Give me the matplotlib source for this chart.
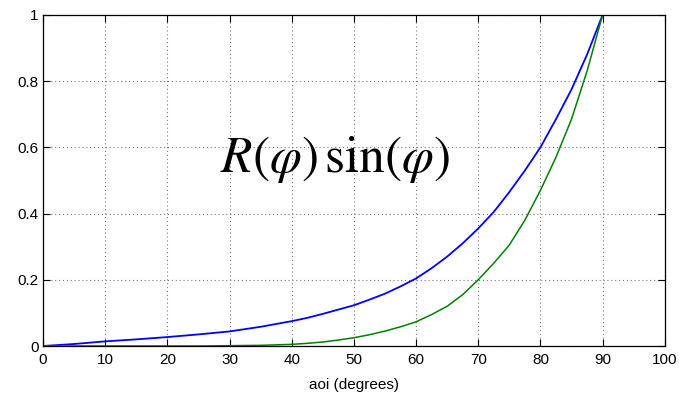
import matplotlib
matplotlib.use("Agg")
import matplotlib.pyplot as plt

# angle of incidence samples (degrees)
aoi = [0, 5, 10, 15, 20, 25, 30, 35, 40, 42.5, 45, 47.5, 50, 52.5, 55, 57.5,
       60, 62.5, 65, 67.5, 70, 72.5, 75, 77.5, 80, 82.5, 85, 87.5, 90]
blue_vals = [0, 0.006, 0.014, 0.02, 0.027, 0.035, 0.044, 0.058, 0.075, 0.085,
             0.097, 0.11, 0.123, 0.14, 0.158, 0.18, 0.204, 0.235, 0.27, 0.31,
             0.355, 0.405, 0.465, 0.53, 0.60, 0.685, 0.775, 0.88, 1.0]
green_vals = [0, 0, 0, 0, 0, 0, 0.001, 0.002, 0.005, 0.008,
              0.012, 0.018, 0.025, 0.034, 0.045, 0.058, 0.073, 0.095, 0.12,
              0.155, 0.20, 0.25, 0.305, 0.38, 0.47, 0.57, 0.685, 0.83, 1.0]

xticks = [0, 10, 20, 30, 40, 50, 60, 70, 80, 90, 100]
yticks = [0, 0.2, 0.4, 0.6, 0.8, 1]
ytick_labels = ['0', '0.2', '0.4', '0.6', '0.8', '1']

plt.rcParams['font.family'] = ['Liberation Sans', 'DejaVu Sans']
plt.rcParams['mathtext.fontset'] = 'stix'

fig = plt.figure(figsize=(6.79, 4.00), dpi=100)
ax = fig.add_axes([0.0633, 0.135, 0.9157, 0.8275])

ax.plot(aoi, blue_vals, color=(0, 0, 1), lw=1.3)
ax.plot(aoi, green_vals, color=(0, 0.5, 0), lw=1.1)

ax.set_xlim(0, 100)
ax.set_ylim(0, 1)
ax.set_xticks(xticks)
ax.set_yticks(yticks)
ax.set_yticklabels(ytick_labels)
ax.tick_params(direction='in', length=5, width=0.8, top=True, right=True,
               labelsize=11, pad=3)
ax.tick_params(axis='x', pad=5)
ax.grid(True, linestyle=(0, (1, 2.5)), color='#777777', linewidth=0.8)
for s in ax.spines.values():
    s.set_linewidth(0.9)

ax.set_xlabel('aoi (degrees)', fontsize=11, labelpad=8)

# formula label over the plot
fig.text(335 / 679, 1 - 159.5 / 400, r'$R(\varphi)\,\sin(\varphi)$',
         ha='center', va='center', fontsize=37, color='black')

fig.savefig('out.png', dpi=100)
